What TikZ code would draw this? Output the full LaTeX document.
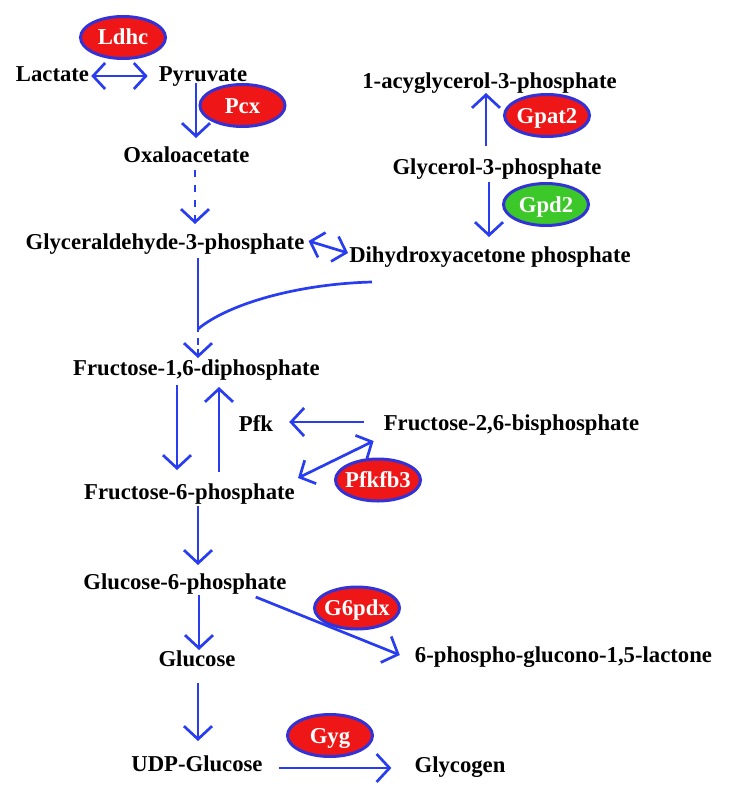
\documentclass[tikz,border=0pt]{standalone}
\usepackage{fontspec}
\setmainfont{Liberation Serif}
\usepackage{tikz}
\usetikzlibrary{positioning,arrows.meta,calc,shapes.geometric}
\definecolor{pathblue}{RGB}{40,60,240}
\definecolor{rimblue}{RGB}{50,50,215}
\definecolor{enzred}{RGB}{238,22,22}
\definecolor{enzgreen}{RGB}{60,200,40}
\newcommand{\metfont}{\fontsize{22.7}{27}\selectfont\bfseries}

\begin{document}
\begin{tikzpicture}[x=1pt, y=-1pt,
    met/.style={inner sep=0pt, font=\metfont, text height=15pt, text depth=0pt},
    enz/.style={ellipse, draw=rimblue, line width=3pt, fill=enzred, text=white,
      minimum width=85pt, minimum height=42pt, inner sep=0pt, inner xsep=-4pt,
      font=\metfont, text height=15pt, text depth=0pt},
    arrow/.style={-{Straight Barb[length=13pt, width=28pt]}, line width=2.7pt, draw=pathblue},
    duoarrow/.style={{Straight Barb[length=12pt, width=26pt]}-{Straight Barb[length=12pt, width=26pt]},
      line width=2.7pt, draw=pathblue},
    link/.style={line width=2.7pt, draw=pathblue}
  ]
    \useasboundingbox (0,0) rectangle (733,800);

    \node[met] (lac) at (52.5,74) {Lactate};
    \node[met] (pyr) at (203,74) {Pyruvate};
    \node[met] (oxa) at (186.5,155) {Oxaloacetate};
    \node[met] (gap) at (165,242) {Glyceraldehyde-3-phosphate};
    \node[met] (dhap) at (490,255) {Dihydroxyacetone phosphate};
    \node[met] (acyl) at (489.5,81) {1-acyglycerol-3-phosphate};
    \node[met] (g3p) at (497,167) {Glycerol-3-phosphate};
    \node[met] (f16) at (196.5,368) {Fructose-1,6-diphosphate};
    \node[met] (pfk) at (256,424) {Pfk};
    \node[met] (f26) at (511.5,423) {Fructose-2,6-bisphosphate};
    \node[met] (f6p) at (189.5,492) {Fructose-6-phosphate};
    \node[met] (g6p) at (185,582) {Glucose-6-phosphate};
    \node[met] (glc) at (197,659) {Glucose};
    \node[met] (lact6) at (563.5,655) {6-phospho-glucono-1,5-lactone};
    \node[met] (udp) at (197,764) {UDP-Glucose};
    \node[met] (glyc) at (460,765) {Glycogen};

    \node[enz] (ldhc) at (123,37.5) {Ldhc};
    \node[enz] (pcx) at (242.5,105.5) {Pcx};
    \node[enz] (gpat) at (547,115.5) {Gpat2};
    \node[enz, fill=enzgreen] (gpd) at (546,204.5) {Gpd2};
    \node[enz] (pfkfb) at (378,480) {Pfkfb3};
    \node[enz] (gpdx) at (357,608) {G6pdx};
    \node[enz] (gyg) at (330,735.5) {Gyg};

    \coordinate (jn) at ($(f16)+(1.5,-39)$);

    \draw[duoarrow] ($(lac.east)+(2,2)$) -- ($(pyr.west)+(-11,2)$);
    \draw[arrow] ($(pyr)+(-7,9)$) -- ($(oxa)+(9.5,-17)$);
    \draw[arrow, dash pattern=on 7pt off 8pt] ($(oxa)+(8.5,15)$) -- ($(gap)+(30,-18)$);
    \draw[duoarrow] ($(gap.east)+(4,-1)$) -- ($(dhap.west)+(-1,-2)$);
    \draw[arrow] ($(g3p)+(-11,-21)$) -- ($(acyl)+(-3.5,12)$);
    \draw[arrow] ($(g3p)+(-8,15)$) -- ($(dhap)+(-1,-18)$);
    \draw[link] ($(gap)+(33,16)$) -- (jn);
    \draw[link] ($(dhap)+(-118,27)$) .. controls +(-75,2) and +(30,-25) .. (jn);
    \draw[arrow, dash pattern=on 3pt off 6pt on 7pt off 4pt on 30pt] (jn) -- ($(f16)+(1.5,-10)$);
    \draw[arrow] ($(f16)+(-19.5,17)$) -- ($(f6p)+(-12.5,-22)$);
    \draw[arrow] ($(f6p)+(29.5,-20)$) -- ($(f16)+(22.5,19)$);
    \draw[arrow] ($(f26.west)+(-20,-1)$) -- ($(pfk.east)+(16,-2)$);
    \draw[duoarrow] ($(f6p.east)+(3,-14)$) -- ($(f26.west)+(-10,18)$);
    \draw[arrow] ($(f6p)+(8.5,14)$) -- ($(g6p)+(13,-17)$);
    \draw[arrow] ($(g6p)+(14,13)$) -- ($(glc)+(2,-9)$);
    \draw[arrow] ($(g6p.east)+(-31,15)$) -- ($(lact6.west)+(-15,0)$);
    \draw[arrow] ($(glc)+(1,24)$) -- ($(udp)+(1,-23)$);
    \draw[arrow] ($(udp.east)+(16,4)$) -- ($(glyc.west)+(-23,3)$);
  \end{tikzpicture}
\end{document}
